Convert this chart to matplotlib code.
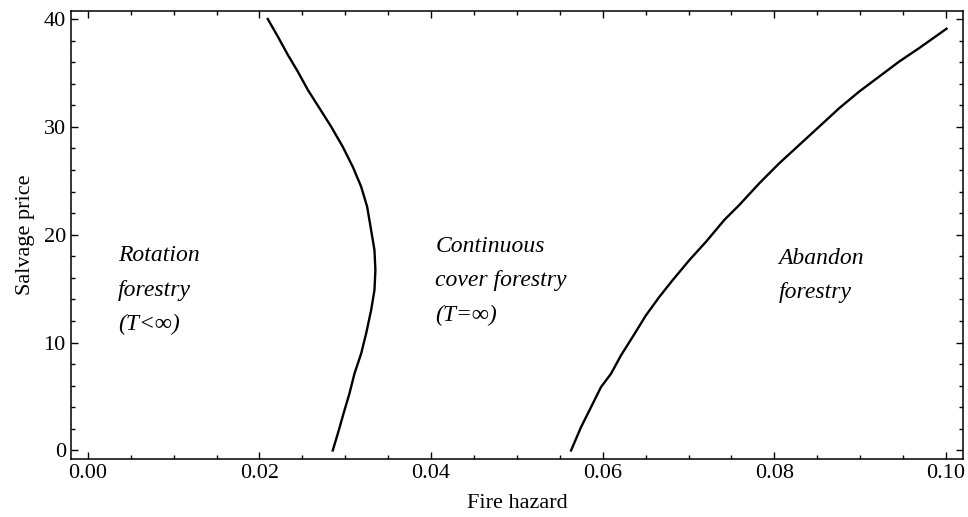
import numpy as np
import matplotlib
matplotlib.use("Agg")
import matplotlib.pyplot as plt
from matplotlib.ticker import MultipleLocator, FormatStrFormatter

plt.rcParams['font.family'] = ['Liberation Serif', 'DejaVu Serif']

# boundary between rotation and continuous cover forestry
rot_hazard = [0.02854, 0.02924, 0.02979, 0.03048, 0.03107, 0.03185, 0.03243,
              0.03301, 0.03340, 0.03351, 0.03340, 0.03301, 0.03255, 0.03185,
              0.03087, 0.02970, 0.02835, 0.02699, 0.02563, 0.02446, 0.02330,
              0.02213, 0.02097]
rot_price = [0.0, 1.86, 3.41, 5.26, 7.12, 8.98, 10.84,
             13.0, 14.86, 16.71, 18.57, 20.43, 22.59, 24.45,
             26.30, 28.16, 30.02, 31.73, 33.43, 35.13, 36.68,
             38.38, 39.99]

# boundary between continuous cover forestry and abandoning
abd_hazard = [0.05631, 0.05747, 0.05864, 0.05980, 0.06097, 0.06213, 0.06348,
              0.06504, 0.06659, 0.06814, 0.07009, 0.07203, 0.07416, 0.07591,
              0.07824, 0.08057, 0.08290, 0.08523, 0.08756, 0.08989, 0.09222,
              0.09455, 0.09688, 0.10006]
abd_price = [0.0, 2.16, 4.02, 5.88, 7.12, 8.82, 10.52,
             12.53, 14.23, 15.78, 17.64, 19.34, 21.36, 22.75,
             24.76, 26.62, 28.32, 30.02, 31.73, 33.27, 34.66,
             36.05, 37.30, 39.09]

regions = ["Rotation\nforestry\n(T<\u221e)",
           "Continuous\ncover forestry\n(T=\u221e)",
           "Abandon\nforestry"]
region_x = [0.0035, 0.0405, 0.0805]
region_y = [14.86, 15.7, 16.2]

fig = plt.figure(figsize=(9.68, 5.17), dpi=100)
ax = fig.add_axes([0.073, 0.112, 0.922, 0.866])

ax.plot(rot_hazard, rot_price, color='black', lw=1.7, solid_joinstyle='round')
ax.plot(abd_hazard, abd_price, color='black', lw=1.7, solid_joinstyle='round')

for txt, x, y in zip(regions, region_x, region_y):
    ax.text(x, y, txt, fontsize=17, style='italic', ha='left', va='center',
            linespacing=1.85)

ax.set_xlim(-0.002, 0.102)
ax.set_ylim(-0.8, 40.7)
ax.xaxis.set_major_locator(MultipleLocator(0.02))
ax.xaxis.set_minor_locator(MultipleLocator(0.005))
ax.yaxis.set_major_locator(MultipleLocator(10))
ax.yaxis.set_minor_locator(MultipleLocator(2))
ax.xaxis.set_major_formatter(FormatStrFormatter('%.2f'))

ax.tick_params(which='both', direction='in', top=True, right=True,
               labelsize=16, width=1.0)
ax.tick_params(which='major', length=5)
ax.tick_params(which='minor', length=3)
for s in ax.spines.values():
    s.set_linewidth(1.1)

ax.set_xlabel("Fire hazard", fontsize=16, labelpad=8)
ax.set_ylabel("Salvage price", fontsize=16, labelpad=6)

fig.savefig("out.png", dpi=100)
